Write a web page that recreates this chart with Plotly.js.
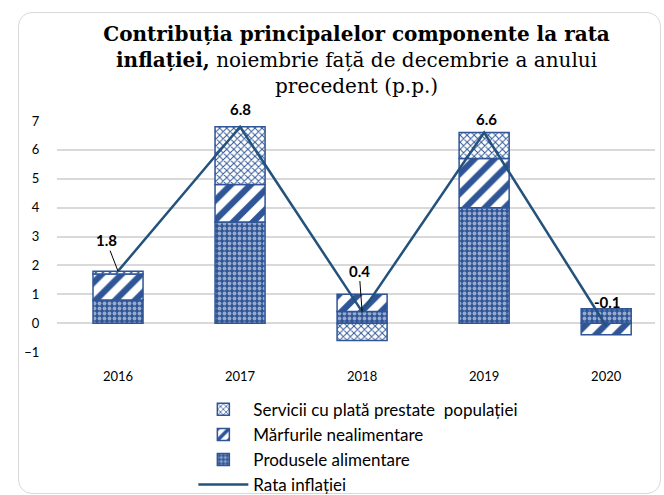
<!DOCTYPE html>
<html>
<head>
<meta charset="utf-8">
<script src="https://cdn.plot.ly/plotly-3.0.1.min.js"></script>
<style>
  html, body { margin: 0; padding: 0; background: #fff; }
  #frame { position: absolute; left: 18px; top: 12px; width: 641px; height: 480px;
           border: 1px solid #d9d9d9; border-radius: 14px; }
  #chart { position: absolute; left: 0; top: 0; width: 664px; height: 495px; }
</style>
</head>
<body>
<div id="frame"></div>
<div id="chart"></div>
<script>
// contributions, p.p.
var years = ["2016", "2017", "2018", "2019", "2020"];
var food = [0.8, 3.5, 0.4, 4.0, 0.5];
var nonFood = [0.9, 1.3, 0.6, 1.7, -0.4];
var services = [0.1, 2.0, -0.6, 0.9, 0];
var inflation = [1.8, 6.8, 0.4, 6.6, -0.1];

// label offsets (px) for the inflation values
var labelDx = [-12, 0, -3, 2, 1];
var labelDy = [-31, -18, -41, -14, -24];
var labelArrow = [true, false, true, false, false];

var blue = "#2f5597";
var lineBlue = "#23527c";

var traceFood = {
  x: years, y: food, type: "bar", name: "Produsele alimentare",
  legendrank: 3,
  marker: {
    color: blue,
    line: {color: blue, width: 1.5},
    pattern: {shape: ".", fgcolor: "#ffffff", bgcolor: blue, size: 5, solidity: 0.45, fillmode: "overlay"}
  }
};
var traceNonFood = {
  x: years, y: nonFood, type: "bar", name: "Mărfurile nealimentare",
  legendrank: 2,
  marker: {
    color: "#ffffff",
    line: {color: blue, width: 1.5},
    pattern: {shape: "/", fgcolor: blue, bgcolor: "#ffffff", size: 14, solidity: 0.45, fillmode: "replace"}
  }
};
var traceServ = {
  x: years, y: services, type: "bar", name: "Servicii cu plată prestate  populației",
  legendrank: 1,
  marker: {
    color: "#ffffff",
    line: {color: blue, width: 1.5},
    pattern: {shape: "x", fgcolor: blue, bgcolor: "#ffffff", size: 5, solidity: 0.35, fillmode: "replace"}
  }
};
var traceRate = {
  x: years, y: inflation, type: "scatter", mode: "lines", name: "Rata inflației",
  legendrank: 4,
  line: {color: lineBlue, width: 2.5}
};

// category index used as x so "2016" is not read as a number
var annotations = inflation.map(function (v, i) {
  return {
    x: i, y: v, xref: "x", yref: "y", text: "<b>" + v.toFixed(1) + "</b>",
    showarrow: true, arrowhead: 0, arrowwidth: 1,
    arrowcolor: labelArrow[i] ? "#000000" : "rgba(0,0,0,0)",
    ax: labelDx[i], ay: labelDy[i], standoff: 0,
    font: {family: "Lato, sans-serif", size: 15, color: "#000"}
  };
});

var layout = {
  width: 664, height: 495,
  paper_bgcolor: "rgba(0,0,0,0)", plot_bgcolor: "rgba(0,0,0,0)",
  margin: {l: 57, r: 9, t: 121, b: 143, autoexpand: false},
  title: {
    text: "<b>Contribuția principalelor componente la rata</b><br><b>inflației,</b> noiembrie față de decembrie a anului<br>precedent (p.p.)",
    font: {family: "DejaVu Serif, serif", size: 20, color: "#000"},
    x: 0.537, xanchor: "center", y: 0.918, yanchor: "top"
  },
  barmode: "relative",
  bargap: 0.59,
  showlegend: true,
  legend: {
    orientation: "v", traceorder: "normal",
    x: 0.228, y: -0.172, xanchor: "left", yanchor: "top",
    font: {family: "Lato, sans-serif", size: 17, color: "#000"},
    itemwidth: 50, tracegroupgap: 0
  },
  xaxis: {
    type: "category", range: [-0.5, 4.4],
    showgrid: false, zeroline: false, showline: false,
    ticks: "outside", ticklen: 12, tickcolor: "rgba(0,0,0,0)",
    tickfont: {family: "Lato, sans-serif", size: 13, color: "#000"}
  },
  yaxis: {
    range: [-1, 7], dtick: 1,
    showgrid: true, gridcolor: "#d9d9d9", gridwidth: 1.5,
    zeroline: false, showline: false,
    ticks: "outside", ticklen: 14, tickcolor: "rgba(0,0,0,0)",
    tickfont: {family: "Lato, sans-serif", size: 13, color: "#000"}
  },
  annotations: annotations
};

Plotly.newPlot("chart", [traceFood, traceNonFood, traceServ, traceRate], layout, {displayModeBar: false});
</script>
</body>
</html>
